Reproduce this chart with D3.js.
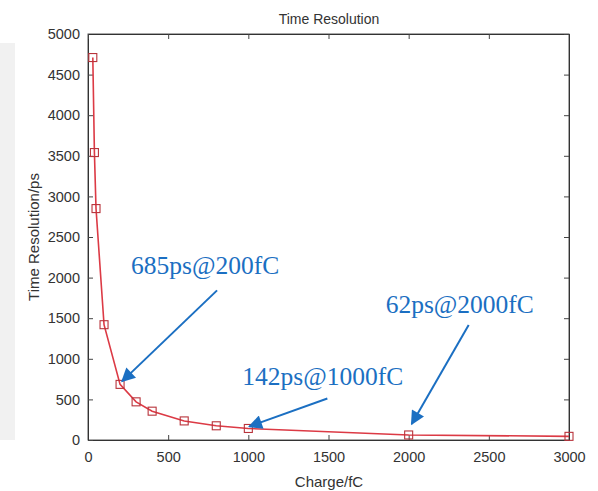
<!DOCTYPE html>
<html>
<head>
  <meta charset="utf-8">
  <title>Time Resolution</title>
  <script src="https://cdn.jsdelivr.net/npm/d3@7"></script>
  <style>
    body { margin: 0; background: #fff; }
    svg { display: block; font-family: "Liberation Sans", Arial, sans-serif; }
    .tick text { fill: #333; font-size: 14.5px; }
    .anno { fill: #1b6fc2; font-family: "Liberation Serif", "Times New Roman", serif; font-size: 25.5px; }
  </style>
</head>
<body>
<svg id="chart" width="598" height="491"></svg>
<script>
  // data
  var charge = [30, 40, 50, 100, 200, 300, 400, 600, 800, 1000, 2000, 3000];
  var resolution = [4710, 3540, 2850, 1420, 685, 470, 355, 235, 175, 142, 62, 45];
  var xTicks = [0, 500, 1000, 1500, 2000, 2500, 3000];
  var yTicks = [0, 500, 1000, 1500, 2000, 2500, 3000, 3500, 4000, 4500, 5000];
  var annoCharge = [200, 1000, 2000];
  var annoRes = [685, 142, 62];
  var annoText = ['685ps@200fC', '142ps@1000fC', '62ps@2000fC'];

  var svg = d3.select('#chart');
  var m = {top: 34, right: 29, bottom: 51, left: 88};
  var W = 598, H = 491;

  var x = d3.scaleLinear().domain([0, 3000]).range([m.left, W - m.right]);
  var y = d3.scaleLinear().domain([0, 5000]).range([H - m.bottom, m.top]);
  var fmt = d3.format('d');

  // light strip at left edge (page artifact)
  svg.append('rect').attr('x', 0).attr('y', 43).attr('width', 15).attr('height', 397)
    .attr('fill', '#f1f1f1');

  svg.append('rect')
    .attr('x', m.left).attr('y', m.top)
    .attr('width', W - m.right - m.left).attr('height', H - m.bottom - m.top)
    .attr('fill', 'none').attr('stroke', '#555').attr('stroke-width', 1);

  svg.append('g').attr('transform', 'translate(0,' + (H - m.bottom) + ')')
    .call(d3.axisBottom(x).tickValues(xTicks).tickFormat(fmt).tickSizeInner(-5).tickSizeOuter(0).tickPadding(12));
  svg.append('g').attr('transform', 'translate(' + m.left + ',0)')
    .call(d3.axisLeft(y).tickValues(yTicks).tickFormat(fmt).tickSizeInner(-5).tickSizeOuter(0).tickPadding(8));
  svg.append('g').attr('transform', 'translate(0,' + m.top + ')')
    .call(d3.axisTop(x).tickValues(xTicks).tickSizeInner(-5).tickSizeOuter(0).tickFormat(''));
  svg.append('g').attr('transform', 'translate(' + (W - m.right) + ',0)')
    .call(d3.axisRight(y).tickValues(yTicks).tickSizeInner(-5).tickSizeOuter(0).tickFormat(''));
  svg.selectAll('.domain').attr('stroke', '#333');
  svg.selectAll('.tick line').attr('stroke', '#444');

  svg.append('text').attr('x', 329).attr('y', 24).attr('text-anchor', 'middle')
    .attr('font-size', 14).attr('fill', '#333').text('Time Resolution');
  svg.append('text').attr('x', 329).attr('y', 487).attr('text-anchor', 'middle')
    .attr('font-size', 15).attr('fill', '#333').text('Charge/fC');
  svg.append('text').attr('transform', 'translate(39,' + ((m.top + H - m.bottom) / 2) + ') rotate(-90)')
    .attr('text-anchor', 'middle').attr('font-size', 15).attr('fill', '#333')
    .text('Time Resolution/ps');

  var pts = charge.map(function(c, i) { return [c, resolution[i]]; });
  var line = d3.line().x(function(d) { return x(d[0]); }).y(function(d) { return y(d[1]); });

  svg.append('path').datum(pts).attr('d', line)
    .attr('fill', 'none').attr('stroke', '#dc3a45').attr('stroke-width', 1.6);

  svg.selectAll('.mk').data(pts).enter().append('rect').attr('class', 'mk')
    .attr('x', function(d) { return x(d[0]) - 4; })
    .attr('y', function(d) { return y(d[1]) - 4; })
    .attr('width', 8).attr('height', 8)
    .attr('fill', 'none').attr('stroke', '#b8333b').attr('stroke-width', 1.1);

  // annotations: text offset and arrow tail relative to data point
  var textOff = [[11, -110], [-6, -43], [-23, -122]];
  var tailOff = [[97, -94], [79, -30], [60, -110]];
  var tipOff = [[2, -3], [1, -2], [3, -11]];

  var defs = svg.append('defs');
  defs.append('marker').attr('id', 'arr').attr('viewBox', '0 0 10 10')
    .attr('refX', 9).attr('refY', 5).attr('markerWidth', 8).attr('markerHeight', 7)
    .attr('markerUnits', 'strokeWidth').attr('orient', 'auto')
    .append('path').attr('d', 'M0,0 L10,5 L0,10 Z').attr('fill', '#1b6fc2');

  annoText.forEach(function(t, i) {
    var px = x(annoCharge[i]), py = y(annoRes[i]);
    svg.append('line')
      .attr('x1', px + tailOff[i][0]).attr('y1', py + tailOff[i][1])
      .attr('x2', px + tipOff[i][0]).attr('y2', py + tipOff[i][1])
      .attr('stroke', '#1b6fc2').attr('stroke-width', 2)
      .attr('marker-end', 'url(#arr)');
    svg.append('text').attr('class', 'anno')
      .attr('x', px + textOff[i][0]).attr('y', py + textOff[i][1]).text(t);
  });
</script>
</body>
</html>
